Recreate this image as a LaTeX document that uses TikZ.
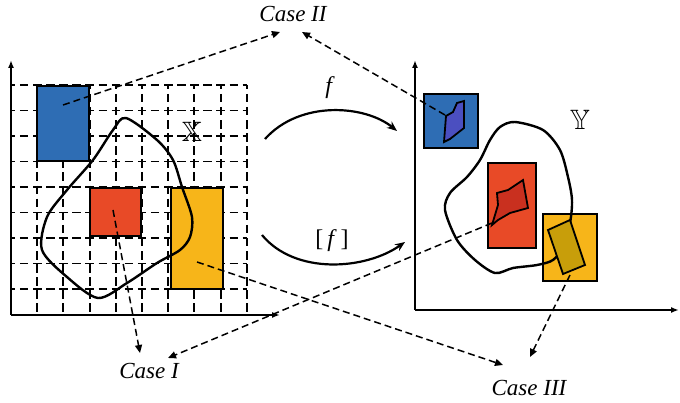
\documentclass[tikz,border=0pt]{standalone}
\usepackage{fontspec}
\setmainfont{Liberation Serif}
\usepackage{amssymb}
\usetikzlibrary{arrows.meta,calc}
\definecolor{cblue}{HTML}{2E6DB4}
\definecolor{cred}{HTML}{E84A27}
\definecolor{cyel}{HTML}{F7B519}
\definecolor{iblue}{HTML}{4B4FC0}
\definecolor{ired}{HTML}{C9301F}
\definecolor{iyel}{HTML}{C89E0A}
\begin{document}
\begin{tikzpicture}[x=1pt,y=-1pt,
 ax/.style={line width=2.2pt,-{Latex[length=8pt,width=6pt]}},
 gridln/.style={line width=1.9pt,dash pattern=on 8.5pt off 4.6pt,dash phase=4.2pt},
 box/.style={draw=black,line width=2.3pt,inner sep=0pt,anchor=north west},
 blob/.style={line width=2.4pt},
 innerp/.style={draw=black,line width=1.8pt},
 dashar/.style={line width=1.5pt,dash pattern=on 7pt off 4pt,-{Triangle[length=8pt,width=7pt]}},
 maparr/.style={line width=2.2pt,-{Stealth[length=10pt,width=8pt]}},
 case/.style={font=\fontsize{23}{25}\selectfont\itshape,inner sep=0pt},
 lab/.style={font=\fontsize{24}{26}\selectfont,inner sep=0pt},
 setlab/.style={font=\fontsize{28}{30}\selectfont,inner sep=0pt}]
\useasboundingbox (0,0) rectangle (680,403);
% ---- left panel grid
\foreach \i in {1,...,9}
  \draw[gridln] ({11+\i*26.2},85) -- ({11+\i*26.2},315);
\foreach \j in {0,...,8}
  \draw[gridln] (11,{85+\j*25.5}) -- (247,{85+\j*25.5});
% rectangles
\node[box,fill=cblue,minimum width=52pt,minimum height=75pt] (bx) at (36,85) {};
\node[box,fill=cred,minimum width=51pt,minimum height=48pt] (rx) at (89,187) {};
\node[box,fill=cyel,minimum width=52pt,minimum height=101pt] (yx) at (170,187) {};
% blob X
\draw[blob] plot[smooth cycle,tension=0.5] coordinates {(126,118) (157,140) (173,160) (182,187) (192,217) (190,237) (180,250) (157,263) (127,283) (98,298) (67,277) (42,250) (47,217) (67,190) (93,160) (113,130)};
\node[setlab] (X) at (192,132) {$\mathbb{X}$};
% axes left
\coordinate (o1) at (11,315);
\coordinate (ya1) at (11,60);
\coordinate (xa1) at (280,315);
\draw[ax] (o1) -- (ya1);
\draw[ax] (o1) -- (xa1);
% ---- right panel
\node[box,fill=cblue,minimum width=54pt,minimum height=54pt] (by) at (423,93) {};
\node[box,fill=cred,minimum width=48pt,minimum height=85pt] (ry) at (487,162) {};
\node[box,fill=cyel,minimum width=54pt,minimum height=67pt] (yy) at (542,213) {};
\draw[blob] plot[smooth cycle,tension=0.5] coordinates {(515,122) (543,130) (560,150) (568,177) (572,200) (570,223) (563,247) (553,260) (537,265) (513,268) (495,273) (475,260) (457,240) (445,210) (450,193) (467,177) (480,160) (490,140) (500,127)};
\draw[innerp,fill=iblue] (444,142) -- (446,116) -- (453,112) -- (457,103) -- (464,101) -- (464,128) -- (450,139) -- cycle;
\draw[innerp,fill=ired] (497,193) -- (508,190) -- (523,180) -- (528,208) -- (510,213) -- (498,220) -- (492,225) -- (498,205) -- cycle;
\draw[innerp,fill=iyel] (548,230) -- (570,220) -- (585,265) -- (563,274) -- cycle;
\node[setlab] (Y) at (580,120) {$\mathbb{Y}$};
\coordinate (o2) at (415,310);
\coordinate (ya2) at (415,60);
\coordinate (xa2) at (679,310);
\draw[ax] (o2) -- (ya2);
\draw[ax] (o2) -- (xa2);
% ---- mapping arrows
\coordinate (fa) at (265,139);
\coordinate (fb) at (397,131);
\coordinate (ga) at (262,235);
\coordinate (gb) at (405,242);
\draw[maparr] (fa) .. controls (300,100) and (365,105) .. (fb);
\draw[maparr] (ga) .. controls (295,275) and (365,270) .. (gb);
\node[lab] (f) at (330,88) {\textit{f}};
\node[lab] (bf) at (332,241) {[\,\textit{f}\,]};
% ---- case labels
\node[case] (c2) at (293,14) {Case II};
\node[case] (c1) at (149,371) {Case I};
\node[case] (c3) at (529,388) {Case III};
% start points
\coordinate (s1) at (63,105);
\coordinate (s2) at (445,115);
\coordinate (s3) at (113,210);
\coordinate (s4) at (492,223);
\coordinate (s5) at (197,262);
\coordinate (s6) at (570,275);
% tips
\coordinate (t1) at (280,32);
\coordinate (t2) at (302,32);
\coordinate (t3) at (140,353);
\coordinate (t4) at (168,358);
\coordinate (t5) at (503,365);
\coordinate (t6) at (530,357);
\draw[dashar] (s1) -- (t1);
\draw[dashar] (s2) -- (t2);
\draw[dashar] (s3) -- (t3);
\draw[dashar] (s4) -- (t4);
\draw[dashar] (s5) -- (t5);
\draw[dashar] (s6) -- (t6);
\end{tikzpicture}
\end{document}
